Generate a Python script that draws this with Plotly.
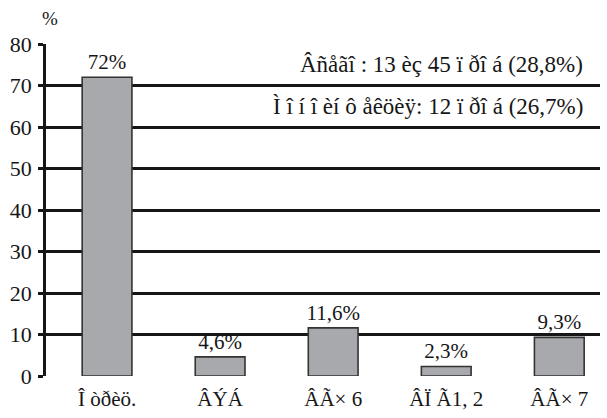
import plotly.graph_objects as go

categories = ["Î òðèö.", "ÂÝÁ", "ÂÃ× 6", "ÂÏ Ã1, 2", "ÂÃ× 7"]
values = [72.0, 4.6, 11.6, 2.3, 9.3]
value_labels = ["72%", "4,6%", "11,6%", "2,3%", "9,3%"]
y_ticks = [0, 10, 20, 30, 40, 50, 60, 70, 80]
summary_lines = [
    "Âñåãî : 13 èç 45 ï ðî á (28,8%)",
    "Ì î í î èí ô åêöèÿ: 12 ï ðî á (26,7%)",
]
summary_levels = [75, 65]

FONT = "Liberation Serif"
INK = "#161616"

fig = go.Figure()
fig.add_trace(go.Bar(
    x=list(range(len(categories))),
    y=values,
    width=0.44,
    marker=dict(color="#a8a9ac", line=dict(color="#333333", width=1.6)),
    text=value_labels,
    textposition="outside",
    constraintext="none",
    textfont=dict(family=FONT, size=21, color=INK),
    cliponaxis=False,
    hoverinfo="skip",
))

for line, lvl in zip(summary_lines, summary_levels):
    fig.add_annotation(
        text=line, xref="paper", yref="y", x=0.973, y=lvl,
        xanchor="right", yanchor="middle", showarrow=False,
        font=dict(family=FONT, size=23, color=INK),
    )

fig.add_annotation(
    text="%", xref="paper", yref="paper", x=0.008, y=1.0,
    yshift=26, xanchor="center", yanchor="middle", showarrow=False,
    font=dict(family=FONT, size=19, color=INK),
)

fig.update_layout(
    width=607, height=418,
    margin=dict(l=46, r=7, t=44, b=40),
    paper_bgcolor="white", plot_bgcolor="white",
    showlegend=False,
    font=dict(family=FONT, color=INK),
    xaxis=dict(
        range=[-0.54, 4.36],
        tickvals=list(range(len(categories))),
        ticktext=categories,
        tickfont=dict(family=FONT, size=21, color=INK),
        showgrid=False, zeroline=False, showline=False,
        ticks="", ticklabelstandoff=8,
    ),
    yaxis=dict(
        range=[0, 80],
        tickvals=y_ticks,
        tickfont=dict(family=FONT, size=22, color=INK),
        showgrid=True, gridcolor=INK, gridwidth=2.5,
        zeroline=False,
        showline=True, linecolor=INK, linewidth=2.5,
        ticks="outside", ticklen=5, tickwidth=2.5, tickcolor=INK,
        ticklabelstandoff=2,
    ),
)

fig.write_html("out.html")
